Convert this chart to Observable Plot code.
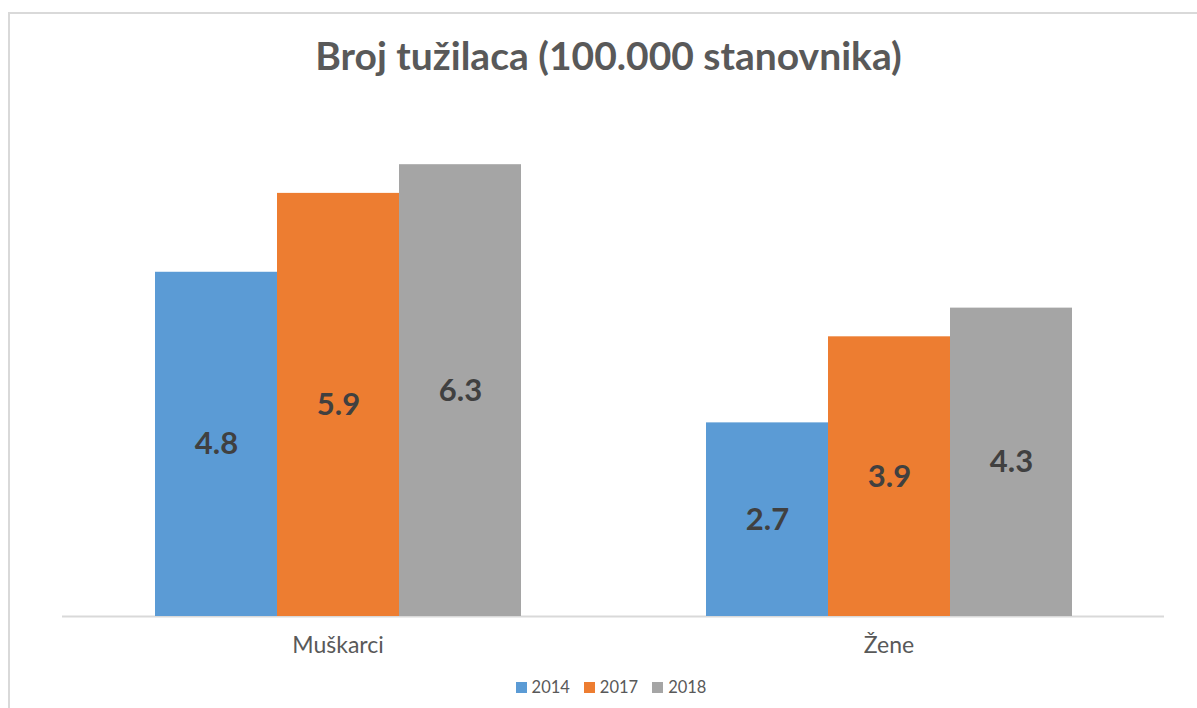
<!DOCTYPE html>
<html>
<head>
<meta charset="utf-8">
<script src="https://cdn.jsdelivr.net/npm/d3@7"></script>
<script src="https://cdn.jsdelivr.net/npm/@observablehq/plot@0.6"></script>
<style>
  html, body { margin: 0; padding: 0; background: #fff; width: 1197px; height: 708px; overflow: hidden; font-family: Lato, "Open Sans", sans-serif; }
  #frame { position: absolute; left: 8px; top: 12px; width: 1300px; height: 800px; border-left: 2px solid #d9d9d9; border-top: 2px solid #d9d9d9; }
  #title { position: absolute; left: 0; top: 32px; width: 1217px; text-align: center; font-size: 39px; font-weight: bold; color: #595959; }
  #chart, #base { position: absolute; left: 0; top: 0; }
  #legend { position: absolute; left: 0; top: 677px; width: 1222px; display: flex; justify-content: center; gap: 14px; font-size: 16.5px; color: #595959; }
  .item { display: flex; align-items: center; gap: 5px; }
  .sw { width: 11px; height: 11px; display: inline-block; }
</style>
</head>
<body>
<div id="frame"></div>
<div id="base"></div>
<div id="chart"></div>
<div id="title">Broj tužilaca (100.000 stanovnika)</div>
<div id="legend"></div>
<script>
const categories = ["Muškarci", "Žene"];
const years = ["2014", "2017", "2018"];
const values2014 = [4.8, 2.7];
const values2017 = [5.9, 3.9];
const values2018 = [6.3, 4.3];
const colors = ["#5B9BD5", "#ED7D31", "#A5A5A5"];

const series = [values2014, values2017, values2018];
const data = categories.flatMap((c, i) => years.map((y, j) => ({category: c, year: y, value: series[j][i]})));

const layout = {
  width: 1197,
  height: 660,
  marginLeft: 62,
  marginRight: 33,
  marginTop: 114,
  marginBottom: 44,
  style: {fontFamily: "Lato, 'Open Sans', sans-serif", background: "transparent"}
};

// baseline across the full plot width (category axis line)
const base = Plot.plot({
  ...layout,
  y: {domain: [0, 7], axis: null},
  marks: [Plot.ruleY([0], {stroke: "#d9d9d9", strokeWidth: 2})]
});
document.getElementById("base").appendChild(base);

const chart = Plot.plot({
  ...layout,
  fx: {domain: categories, paddingInner: 1/3, paddingOuter: 1/6, label: null},
  x: {domain: years, padding: 0, axis: null},
  y: {domain: [0, 7], axis: null},
  color: {domain: years, range: colors},
  marks: [
    Plot.barY(data, {fx: "category", x: "year", y: "value", fill: "year", inset: 0}),
    Plot.text(data, {fx: "category", x: "year", y: d => d.value / 2, text: d => d.value.toFixed(1), fontSize: 31, fontWeight: "bold", fill: "#404040"}),
    Plot.axisFx({anchor: "bottom", tickSize: 0, tickPadding: 20, fontSize: 23, fill: "#595959", label: null})
  ]
});
document.getElementById("chart").appendChild(chart);

const legend = document.getElementById("legend");
years.forEach((y, j) => {
  const item = document.createElement("div");
  item.className = "item";
  const sw = document.createElement("span");
  sw.className = "sw";
  sw.style.background = colors[j];
  const t = document.createElement("span");
  t.textContent = y;
  item.appendChild(sw);
  item.appendChild(t);
  legend.appendChild(item);
});
</script>
</body>
</html>
